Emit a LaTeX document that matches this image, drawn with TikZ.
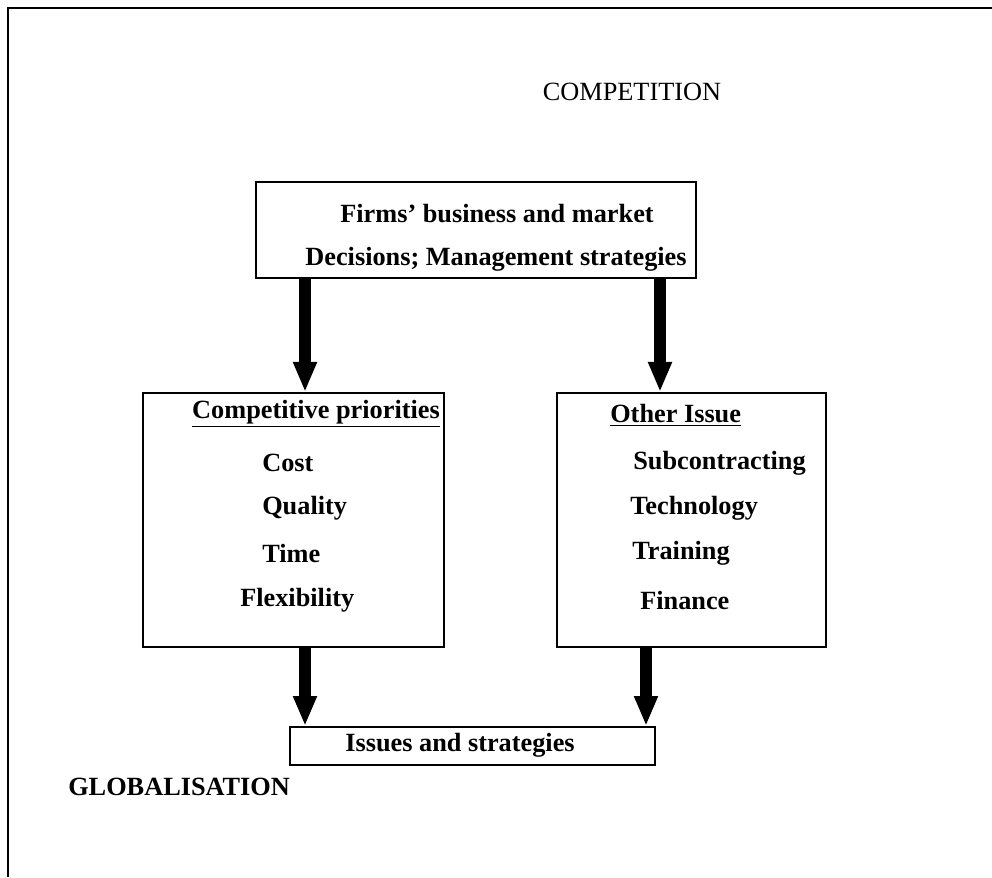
\documentclass[tikz,border=0pt]{standalone}
\usepackage{fontspec}
\setmainfont{Liberation Serif}
\usetikzlibrary{arrows.meta, positioning}

\begin{document}
\begin{tikzpicture}[
      x=0.025cm, y=-0.025cm,
      txt/.style={font=\fontsize{18.7}{22}\selectfont\bfseries, inner sep=0pt},
      lbl/.style={txt, anchor=west},
      frame_box/.style={draw, line width=1.4pt, inner sep=0pt},
      fat_arrow/.style={line width=8.5pt, -{Triangle[width=0.55cm, length=0.75cm]}}
    ]
    \useasboundingbox (0,0) rectangle (992,877);

    % Rand
    \draw[line width=1.2pt] (8,877) -- (8,8) -- (992,8);

    % Titel
    \node[font=\fontsize{18.7}{22}\selectfont, inner sep=0pt] (competition) at (632,92) {COMPETITION};

    % Kasten oben
    \node[frame_box, minimum width=11cm, minimum height=2.4cm] (firms) at (476,230) {};
    \node[txt] (firms1) at (497,214) {Firms’ business and market};
    \node[txt] (firms2) at (496,259) {Decisions; Management strategies};

    % Kasten links
    \node[frame_box, minimum width=7.525cm, minimum height=6.35cm] (prio) at (293.5,520) {};
    \node[txt] (priohead) at (316,414) {\underline{Competitive priorities}};
    \node[lbl] (cost) at (262,463) {Cost};
    \node[lbl] (quality) at (262,508) {Quality};
    \node[lbl] (time) at (262,553) {Time};
    \node[lbl] (flex) at (240,600) {Flexibility};

    % Kasten rechts
    \node[frame_box, minimum width=6.725cm, minimum height=6.35cm] (other) at (691.5,520) {};
    \node[lbl] (otherhead) at (610,415) {\underline{Other Issue}};
    \node[lbl] (subc) at (633,463) {Subcontracting};
    \node[lbl] (tech) at (630,508) {Technology};
    \node[lbl] (train) at (632,553) {Training};
    \node[lbl] (fin) at (640,600) {Finance};

    % Kasten unten
    \node[frame_box, minimum width=9.125cm, minimum height=0.95cm] (issues) at (472.5,746) {};
    \node[txt] (issuestxt) at (460,745) {Issues and strategies};

    \node[lbl] (global) at (68,787) {GLOBALISATION};

    % Pfeile
    \draw[fat_arrow] (firms.south -| 305,0) -- (prio.north -| 305,0);
    \draw[fat_arrow] (firms.south -| 660,0) -- (other.north -| 660,0);
    \draw[fat_arrow] (prio.south -| 305,0) -- (issues.north -| 305,0);
    \draw[fat_arrow] (other.south -| 646,0) -- (issues.north -| 646,0);
  \end{tikzpicture}
\end{document}
